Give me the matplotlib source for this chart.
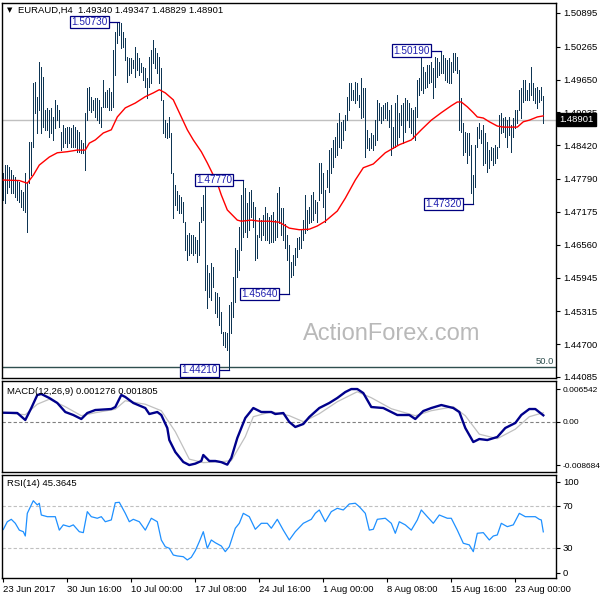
import matplotlib
matplotlib.use('Agg')
import matplotlib.pyplot as plt
import matplotlib.transforms as mtransforms

plt.rcParams['font.family'] = ['Liberation Sans', 'DejaVu Sans']

title_text = "EURAUD,H4  1.49340 1.49347 1.48829 1.48901"
macd_title = "MACD(12,26,9) 0.001276 0.001805"
rsi_title = "RSI(14) 45.3645"

highs = [
1.4790,1.4805,1.4805,1.4802,1.4796,1.4786,1.4783,1.4777,1.4773,1.4758,
1.4755,1.4790,1.4773,1.4848,1.4848,1.4959,1.4961,1.4933,1.4998,1.4989,
1.4970,1.4908,1.4912,1.4908,1.4912,1.4895,1.4927,1.4917,1.4908,1.4867,
1.4880,1.4874,1.4876,1.4876,1.4874,1.4880,1.4876,1.4871,1.4867,1.4852,
1.4846,1.4903,1.4949,1.4951,1.4933,1.4927,1.4931,1.4931,1.4927,1.4914,
1.4964,1.4942,1.4946,1.4949,1.4942,1.5020,1.5054,1.5071,1.5073,1.5071,
1.5054,1.5043,1.5007,1.5005,1.5005,1.5002,1.5026,1.5015,1.5005,1.4996,
1.4989,1.4987,1.4968,1.5007,1.5020,1.5039,1.5024,1.5015,1.5007,1.4987,
1.4927,1.4889,1.4884,1.4895,1.4865,1.4790,1.4768,1.4756,1.4749,1.4745,
1.4736,1.4698,1.4674,1.4678,1.4674,1.4674,1.4671,1.4665,1.4698,1.4727,
1.4749,1.4771,1.4618,1.4603,1.4622,1.4614,1.4568,1.4566,1.4558,1.4530,
1.4493,1.4493,1.4491,1.4543,1.4549,1.4596,1.4650,1.4646,1.4689,1.4749,
1.4777,1.4762,1.4734,1.4755,1.4758,1.4736,1.4727,1.4674,1.4706,1.4702,
1.4712,1.4727,1.4715,1.4708,1.4712,1.4717,1.4702,1.4753,1.4764,1.4725,
1.4725,1.4695,1.4674,1.4656,1.4624,1.4637,1.4650,1.4669,1.4671,1.4684,
1.4702,1.4749,1.4721,1.4727,1.4749,1.4755,1.4740,1.4736,1.4809,1.4809,
1.4790,1.4758,1.4796,1.4833,1.4837,1.4852,1.4858,1.4884,1.4903,1.4886,
1.4889,1.4899,1.4933,1.4959,1.4959,1.4946,1.4961,1.4959,1.4936,1.4968,
1.4949,1.4949,1.4871,1.4856,1.4865,1.4861,1.4889,1.4927,1.4921,1.4914,
1.4917,1.4921,1.4923,1.4908,1.4917,1.4876,1.4921,1.4936,1.4903,1.4917,
1.4921,1.4931,1.4927,1.4921,1.4912,1.4908,1.4914,1.4964,1.4968,1.5011,
1.4989,1.4979,1.4992,1.4992,1.4998,1.4987,1.5007,1.5005,1.4998,1.5019,
1.5011,1.5005,1.5002,1.5005,1.4998,1.5015,1.5015,1.5007,1.4983,1.4931,
1.4884,1.4867,1.4865,1.4865,1.4843,1.4786,1.4843,1.4876,1.4884,1.4871,
1.4880,1.4865,1.4848,1.4833,1.4839,1.4837,1.4843,1.4839,1.4899,1.4903,
1.4893,1.4895,1.4889,1.4895,1.4880,1.4893,1.4908,1.4908,1.4946,1.4949,
1.4964,1.4964,1.4946,1.4959,1.4989,1.4959,1.4949,1.4951,1.4946,1.4951,
1.49347]

lows = [
1.4740,1.4734,1.4753,1.4764,1.4753,1.4753,1.4745,1.4740,1.4736,1.4727,
1.4721,1.4717,1.4680,1.4771,1.4786,1.4839,1.4903,1.4865,1.4908,1.4865,
1.4876,1.4871,1.4871,1.4858,1.4865,1.4852,1.4874,1.4889,1.4876,1.4833,
1.4839,1.4846,1.4839,1.4846,1.4839,1.4839,1.4839,1.4830,1.4830,1.4828,
1.4828,1.4796,1.4889,1.4908,1.4904,1.4908,1.4895,1.4889,1.4884,1.4876,
1.4914,1.4914,1.4914,1.4908,1.4908,1.4914,1.4974,1.5033,1.5048,1.5024,
1.5026,1.5002,1.4961,1.4974,1.4977,1.4987,1.4970,1.4983,1.4974,1.4979,
1.4964,1.4951,1.4931,1.4951,1.4959,1.4996,1.4987,1.4977,1.4959,1.4927,
1.4865,1.4858,1.4856,1.4858,1.4790,1.4706,1.4730,1.4721,1.4715,1.4715,
1.4698,1.4646,1.4627,1.4637,1.4640,1.4637,1.4640,1.4624,1.4637,1.4698,
1.4702,1.4571,1.4538,1.4558,1.4553,1.4577,1.4528,1.4521,1.4506,1.4491,
1.4468,1.4465,1.4459,1.4421,1.4491,1.4521,1.4549,1.4596,1.4609,1.4646,
1.4671,1.4680,1.4671,1.4684,1.4708,1.4689,1.4627,1.4631,1.4671,1.4665,
1.4674,1.4665,1.4665,1.4659,1.4661,1.4661,1.4665,1.4671,1.4697,1.4674,
1.4665,1.4650,1.4627,1.4564,1.4596,1.4600,1.4618,1.4633,1.4648,1.4650,
1.4665,1.4678,1.4684,1.4697,1.4698,1.4702,1.4715,1.4698,1.4740,1.4753,
1.4727,1.4698,1.4764,1.4755,1.4790,1.4802,1.4820,1.4824,1.4839,1.4837,
1.4852,1.4871,1.4889,1.4908,1.4927,1.4927,1.4921,1.4927,1.4914,1.4893,
1.4895,1.4820,1.4837,1.4833,1.4837,1.4833,1.4843,1.4852,1.4889,1.4884,
1.4889,1.4893,1.4889,1.4876,1.4824,1.4837,1.4839,1.4843,1.4858,1.4880,
1.4846,1.4867,1.4889,1.4876,1.4865,1.4856,1.4852,1.4895,1.4936,1.4946,
1.4940,1.4949,1.4951,1.4959,1.4961,1.4931,1.4951,1.4970,1.4974,1.4977,
1.4977,1.4964,1.4961,1.4959,1.4959,1.4979,1.4983,1.4977,1.4871,1.4867,
1.4824,1.4830,1.4809,1.4824,1.4753,1.4732,1.4764,1.4839,1.4856,1.4846,
1.4805,1.4809,1.4792,1.4800,1.4814,1.4805,1.4809,1.4818,1.4839,1.4865,
1.4867,1.4858,1.4839,1.4861,1.4830,1.4858,1.4874,1.4884,1.4908,1.4893,
1.4923,1.4927,1.4927,1.4927,1.4936,1.4927,1.4921,1.4912,1.4923,1.4927,
1.48829]

ma_idx = [0,8,12,15,18,23,27,32,37,41,43,46,50,54,57,61,66,71,75,78,
          81,85,88,92,95,99,102,107,109,112,117,119,124,128,133,138,143,148,153,157,
          161,167,171,176,180,185,191,198,204,209,214,219,224,227,229,232,235,237,240,243,
          247,250,257,260,263,267,270]
ma_val = [1.4777,1.4776,1.4771,1.4786,1.4805,1.4820,1.4828,1.4830,1.4833,1.4833,
          1.4846,1.4852,1.4865,1.4871,1.4895,1.4912,1.4921,1.4933,1.4940,1.4946,
          1.4940,1.4927,1.4903,1.4871,1.4852,1.4830,1.4809,1.4771,1.4749,1.4721,
          1.4702,1.4700,1.4702,1.4700,1.4700,1.4698,1.4687,1.4684,1.4685,1.4691,
          1.4700,1.4719,1.4743,1.4777,1.4800,1.4807,1.4828,1.4843,1.4852,1.4871,
          1.4889,1.4903,1.4916,1.4923,1.4923,1.4914,1.4903,1.4895,1.4893,1.4886,
          1.4878,1.4876,1.4876,1.4886,1.4889,1.4895,1.4897]

macd_idx = [0,7,11,14,17,19,23,27,31,35,39,42,46,54,56,59,61,65,71,73,
            77,79,82,83,86,90,93,96,99,100,103,106,109,112,114,117,121,125,129,134,
            136,140,143,146,150,153,158,163,167,171,174,177,180,184,190,194,197,203,206,210,
            214,219,225,228,231,235,238,242,247,251,256,259,263,266,270]
macd_val = [0.00180,0.00174,0.00034,0.00274,0.00535,0.00555,0.00475,0.00375,0.00194,0.00134,
            0.00054,0.00174,0.00234,0.00254,0.00294,0.00535,0.00495,0.00375,0.00274,0.00154,
            0.00194,0.00134,-0.00126,-0.00367,-0.00607,-0.00807,-0.00868,-0.00840,-0.00787,-0.00667,
            -0.00787,-0.00787,-0.00810,-0.00860,-0.00727,-0.00327,0.00074,0.00274,0.00194,0.00194,
            0.00154,0.00174,-0.00006,-0.00106,-0.00046,0.00094,0.00274,0.00375,0.00475,0.00594,
            0.00654,0.00654,0.00574,0.00294,0.00274,0.00194,0.00134,0.00134,0.00054,0.00214,
            0.00274,0.00334,0.00274,0.00194,-0.00126,-0.00407,-0.00347,-0.00367,-0.00306,-0.00126,
            -0.00026,0.00134,0.00254,0.00254,0.00128]

sig_idx = [0,11,17,23,31,39,46,56,61,71,79,86,93,100,109,114,121,125,134,143,
           150,158,167,177,184,194,206,214,225,231,238,247,256,263,270]
sig_val = [0.0018,0.0014,0.0035,0.0045,0.0030,0.0012,0.0018,0.0025,0.0042,0.0035,
           0.0022,-0.0020,-0.0075,-0.0082,-0.0080,-0.0078,-0.0030,0.0010,0.0020,0.0012,
           0.0000,0.0016,0.0040,0.0060,0.0048,0.0026,0.0012,0.0022,0.0030,0.0012,
           -0.0025,-0.0034,-0.0015,0.0010,0.0018]

rsi_idx = [0,2,4,6,8,10,11,12,15,17,18,19,22,26,28,30,33,35,38,40,
           42,44,47,49,51,54,56,58,61,63,65,68,71,74,77,79,81,83,85,87,
           90,92,94,96,98,100,102,104,106,109,111,113,116,118,120,123,126,129,132,134,
           137,140,143,146,150,154,156,158,161,164,167,170,173,176,178,181,183,185,187,191,
           194,196,198,201,204,207,209,212,215,218,222,224,227,230,233,235,237,240,243,245,
           247,249,252,255,258,261,266,268,269,270]
rsi_val = [47.6,55,57.3,53.5,47,45.5,41.4,63,75,71,72.6,61.4,59.8,59.8,47,52,50.3,52,45.5,44.6,
           64.6,59.8,58.3,59.8,55,56.7,73.1,73.5,63,55,57.3,55,47,58.3,55,37.6,31.2,29.7,23.3,22.4,
           21.7,18.6,21.1,27.4,36,45.5,29.7,37.6,35,31.9,26.5,31.2,48.8,53.5,63,59.8,47.8,53.5,53.5,48.8,
           57.3,47,37.6,45.5,53.5,57.3,63,66.2,55,64.6,67.8,66.2,71.9,72.6,69.3,63,47,47.8,57.3,58.3,
           53.5,44,55,52,47,56.7,66.2,59.8,53.5,61.4,58.3,58.3,47,34.5,32.9,26.5,44,44.6,37.6,41.4,
           42.4,53.5,50.3,52,63,59.8,59.8,57.3,56.7,45.36]

price_ticks = [1.50895,1.50265,1.49650,1.49035,1.48420,1.47790,1.47175,1.46560,1.45945,1.45315,1.44700,1.44085]
macd_ticks = [0.006542, 0.0, -0.008684]
macd_tick_labels = ['0.006542', '0.00', '-0.008684']
rsi_tick_pos = [93, 70, 30, 6.5]
rsi_tick_labels = ['100', '70', '30', '0']
rsi_levels = [70, 30]
x_tick_idx = [0, 32, 64, 96, 128, 160, 192, 224, 256]
x_tick_labels = ['23 Jun 2017', '30 Jun 16:00', '10 Jul 00:00', '17 Jul 08:00', '24 Jul 16:00',
                 '1 Aug 00:00', '8 Aug 08:00', '15 Aug 16:00', '23 Aug 00:00']
last_price = 1.48901
fib_level = 1.4427
fib_label = '50.0'
swing_idx = [58, 120, 113, 143, 219, 235]
swing_val = [1.50730, 1.47770, 1.44210, 1.45640, 1.50190, 1.47320]

BAR_COLOR = '#0e3553'

fig = plt.figure(figsize=(6, 6), dpi=100, facecolor='white')


def px_rect(l, t, r, b):
    return [l / 600, 1 - b / 600, (r - l) / 600, (b - t) / 600]


ax1 = fig.add_axes(px_rect(2, 3, 556, 378))
ax2 = fig.add_axes(px_rect(2, 381, 556, 472))
ax3 = fig.add_axes(px_rect(2, 475, 556, 578))

xlim = (-0.65, 276.35)
for ax in (ax1, ax2, ax3):
    ax.set_xlim(*xlim)
    ax.yaxis.tick_right()
    ax.tick_params(axis='y', direction='out', length=3, width=0.8, labelsize=6.8, pad=2, colors='black')
    for s in ax.spines.values():
        s.set_linewidth(1.0)
        s.set_color('black')

# ---- main price panel
x = list(range(len(highs)))
ax1.axhline(last_price, color='#c0c0c0', lw=1.0, zorder=1)
ax1.axhline(fib_level, color='#2f4f4f', lw=1.0, zorder=1)
ax1.vlines(x, lows, highs, color=BAR_COLOR, lw=0.72, antialiased=False, zorder=2)
ax1.plot(ma_idx, ma_val, color='red', lw=1.0, zorder=3)
ax1.set_ylim(1.44066, 1.51082)
ax1.set_yticks(price_ticks)
ax1.set_yticklabels([f'{v:.5f}' for v in price_ticks])
ax1.set_xticks([])

blend1 = mtransforms.blended_transform_factory(ax1.transAxes, ax1.transData)
ax1.text(0.9964, fib_level + 0.0002, fib_label, transform=blend1, ha='right', va='bottom',
         fontsize=6.8, color='#2f4f4f')
ax1.text(1.0065, last_price, f'{last_price:.5f}', transform=blend1, ha='left', va='center',
         fontsize=6.8, color='white', zorder=10,
         bbox=dict(boxstyle='square,pad=0.25', fc='black', ec='black'))

for i, v in zip(swing_idx, swing_val):
    ax1.plot([i - 5.3, i], [v, v], color='#00007f', lw=0.9, zorder=4)
    ax1.text(i - 5.7, v, f'{v:.5f}', ha='right', va='center', fontsize=7.2, color='#2020b0',
             zorder=5, bbox=dict(boxstyle='square,pad=0.12', fc='white', ec='#00007f', lw=0.9))

# ---- MACD panel
ax2.axhline(0, color='#808080', lw=0.8, ls=(0, (3, 2)))
ax2.plot(sig_idx, sig_val, color='#c0c0c0', lw=0.9)
ax2.plot(macd_idx, macd_val, color='#00008b', lw=1.7)
ax2.set_ylim(-0.010075, 0.008152)
ax2.set_yticks(macd_ticks)
ax2.set_yticklabels(macd_tick_labels)
ax2.tick_params(axis='y', labelsize=6.0, pad=1.5)
ax2.set_xticks([])

# ---- RSI panel
for lv in rsi_levels:
    ax3.axhline(lv, color='#c0c0c0', lw=0.8, ls=(0, (3, 2)))
ax3.plot(rsi_idx, rsi_val, color='#1e90ff', lw=0.9)
ax3.set_ylim(1.4, 99.5)
ax3.set_yticks(rsi_tick_pos)
ax3.set_yticklabels(rsi_tick_labels)
ax3.set_xticks(x_tick_idx)
ax3.set_xticklabels(x_tick_labels, ha='left', fontsize=6.8)
ax3.tick_params(axis='x', direction='out', length=3, width=0.8, pad=2)

# ---- texts
fig.text(7 / 600, 1 - 10 / 600, '\u25bc', fontsize=5, va='center', family='DejaVu Sans')
fig.text(18 / 600, 1 - 10 / 600, title_text, fontsize=6.8, va='center')
fig.text(7 / 600, 1 - 392 / 600, macd_title, fontsize=6.8, va='center')
fig.text(7 / 600, 1 - 484 / 600, rsi_title, fontsize=6.8, va='center')
fig.text(303 / 600, 1 - 334 / 600, 'ActionForex.com', fontsize=17, color='#b9b9b9',
         va='center', ha='left')

fig.savefig('out.png', dpi=100, facecolor='white')
